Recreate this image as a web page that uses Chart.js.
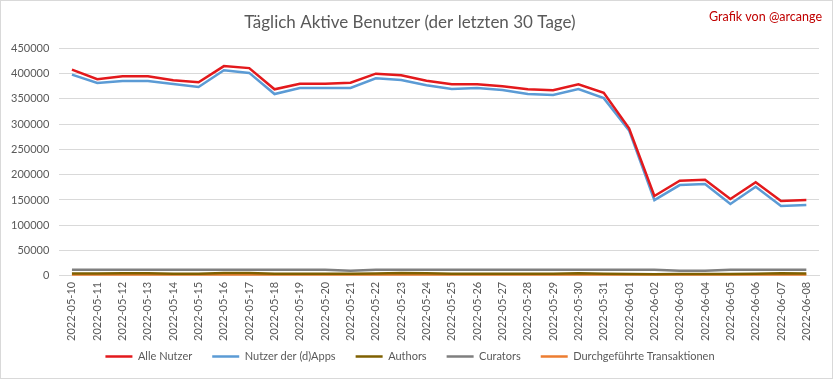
<!DOCTYPE html>
<html>
<head>
<meta charset="utf-8">
<script src="https://cdn.jsdelivr.net/npm/chart.js@4"></script>
<style>
html,body{margin:0;padding:0;background:#fff;}
#wrap{position:relative;width:831px;height:377px;border:1px solid #d9d9d9;}
canvas{display:block;}
</style>
</head>
<body>
<div id="wrap"><canvas id="c" width="831" height="377"></canvas></div>
<script>
const categories = ["2022-05-10","2022-05-11","2022-05-12","2022-05-13","2022-05-14","2022-05-15","2022-05-16","2022-05-17","2022-05-18","2022-05-19","2022-05-20","2022-05-21","2022-05-22","2022-05-23","2022-05-24","2022-05-25","2022-05-26","2022-05-27","2022-05-28","2022-05-29","2022-05-30","2022-05-31","2022-06-01","2022-06-02","2022-06-03","2022-06-04","2022-06-05","2022-06-06","2022-06-07","2022-06-08"];
const alleNutzer = [408000,389000,395000,395000,387000,383000,415000,411000,369000,380000,380000,382000,400000,397000,386000,379000,379000,375000,369000,367000,379000,362000,292000,158000,188000,190000,152000,185000,148000,150000];
const nutzerDApps = [398000,381500,385500,385500,379500,373600,406800,401500,359600,371600,371600,371600,390800,387500,376900,369600,371600,367600,359600,357600,369600,351600,287800,149600,179500,181500,142200,176100,138300,140300];
const authors = [4500,4600,4800,5200,4200,4100,5600,5500,4000,3900,3900,3800,4600,5400,4800,4000,3900,3800,3900,4000,4900,4000,3500,3200,3400,3500,3300,3900,4800,4300];
const curators = [12000,12000,12000,12000,12000,12000,12000,12000,12000,12000,12000,10000,12000,12000,12000,12000,12000,12000,12000,12000,12000,12000,12000,12000,10000,10000,12000,12000,12000,12000];
const transaktionen = [1800,1800,1800,1800,1800,1800,1800,1800,1800,1800,1800,1800,1800,1800,1800,1800,1800,1800,1800,1800,1800,1800,2200,1800,1800,1800,1800,1800,1800,1800];
const yTicks = {min:0, max:450000, step:50000};
const titleText = "Täglich Aktive Benutzer (der letzten 30 Tage)";
const creditText = "Grafik von @arcange";

const credit = {
  id:'credit',
  afterDraw(chart){
    const ctx = chart.ctx;
    ctx.save();
    ctx.font = '12.5px Lato, "Open Sans", sans-serif';
    ctx.fillStyle = '#c00000';
    ctx.textAlign = 'right';
    ctx.textBaseline = 'middle';
    ctx.fillText(creditText, 821, 16);
    ctx.restore();
  }
};

// move the legend row up so it sits closer to the axis labels
const legendNudge = {
  id:'legendNudge',
  afterLayout(chart){
    const l = chart.legend;
    if (l) { l.top -= 16; l.bottom -= 16; }
  }
};

function ds(label, data, color, w){
  return {label, data, borderColor:color, backgroundColor:color, borderWidth:w, pointRadius:0, pointHoverRadius:0, tension:0, fill:false};
}

new Chart(document.getElementById('c'), {
  type:'line',
  data:{
    labels:categories,
    datasets:[
      ds('Alle Nutzer', alleNutzer, '#e3191c', 2.5),
      ds('Nutzer der (d)Apps', nutzerDApps, '#5b9bd5', 2.5),
      ds('Authors', authors, '#7f6000', 2.5),
      ds('Curators', curators, '#7f7f7f', 2.5),
      ds('Durchgeführte Transaktionen', transaktionen, '#ed7d31', 2.5)
    ]
  },
  options:{
    responsive:false,
    animation:false,
    devicePixelRatio:1,
    layout:{padding:{left:0,right:13,top:5,bottom:-10}},
    plugins:{
      title:{display:true, text:titleText, color:'#595959', font:{family:'Lato, "Open Sans", sans-serif', size:17, weight:'normal'}, padding:{top:6,bottom:16}},
      legend:{position:'bottom', labels:{usePointStyle:true, pointStyle:'line', pointStyleWidth:27, boxHeight:2, color:'#595959', font:{family:'Lato, "Open Sans", sans-serif', size:11}, padding:20}},
      tooltip:{enabled:false}
    },
    scales:{
      x:{
        offset:true,
        grid:{display:false, drawTicks:false},
        border:{display:true, color:'#d9d9d9'},
        ticks:{color:'#595959', font:{family:'Lato, "Open Sans", sans-serif', size:11}, minRotation:90, maxRotation:90, autoSkip:false, padding:6}
      },
      y:{
        min:yTicks.min, max:yTicks.max,
        grid:{color:'#d9d9d9', drawTicks:false},
        border:{display:false},
        ticks:{stepSize:yTicks.step, color:'#595959', font:{family:'Lato, "Open Sans", sans-serif', size:11}, padding:10, callback:v=>String(v)}
      }
    }
  },
  plugins:[credit, legendNudge]
});
</script>
</body>
</html>
